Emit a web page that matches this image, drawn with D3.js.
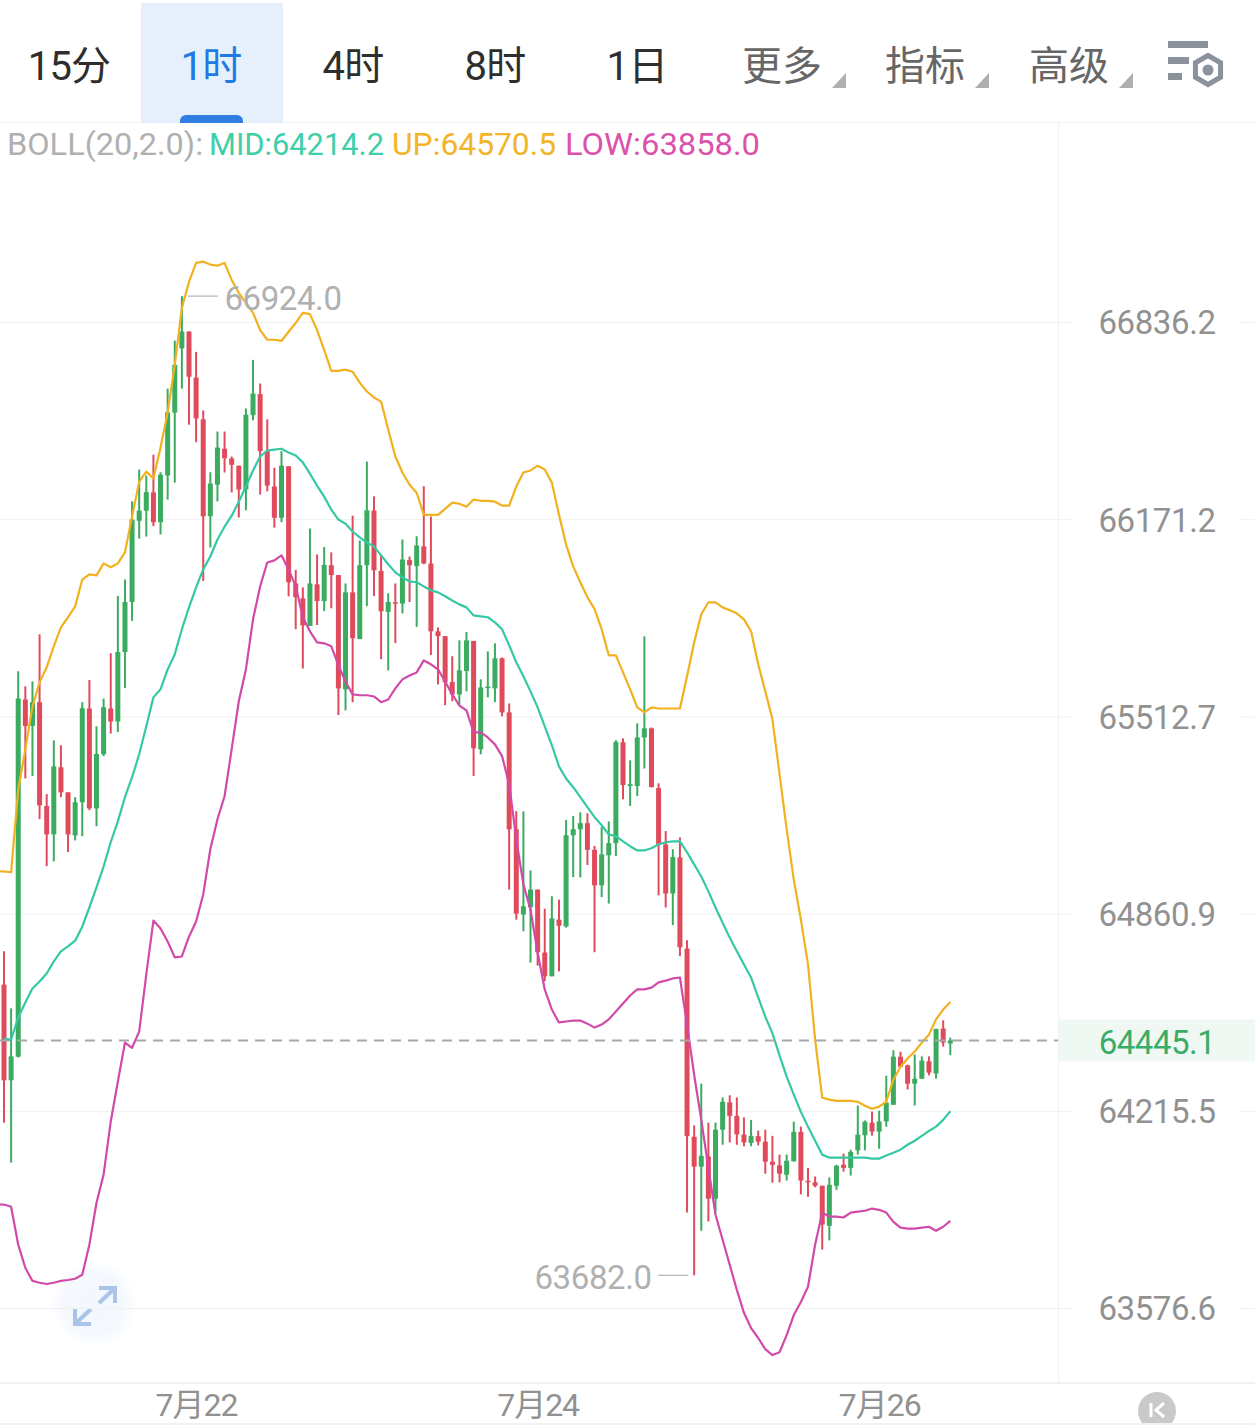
<!DOCTYPE html>
<html>
<head>
<meta charset="utf-8">
<title>BTC 1时 K线</title>
<script src="https://cdn.jsdelivr.net/npm/d3@7"></script>
<style>
html,body{margin:0;padding:0;background:#fff;}
svg{display:block;}
text{font-family:Roboto,"Noto Sans CJK SC",sans-serif;}
</style>
</head>
<body>
<svg id="chart" width="1255" height="1425"></svg>
<script>
// Hourly OHLC candles
const opens = [
64628,64315,64392,65569,65481,65560,65216,65122,65344,65261,
65119,65228,65539,65208,65387,65539,65496,65727,65894,66166,
66200,66261,66161,66318,66530,66747,66804,66648,66507,66181,
66287,66408,66375,66351,66271,66521,66592,66400,66281,66176,
66349,65956,65906,65814,65953,65897,66017,65984,65603,65926,
65770,66017,66200,65998,65861,65893,65889,66034,66014,66080,
66023,65796,65780,65627,65586,65664,65764,65404,65607,65606,
65706,65526,65139,64858,64882,64940,64733,64655,64841,64819,
65119,65139,65159,65071,64954,65053,65093,65427,65282,65282,
65443,65473,65275,65089,64927,65046,64746,64131,64034,64067,
63930,64154,64243,64199,64138,64111,64133,64115,64050,64038,
64008,64051,64147,63988,63983,63972,63842,63972,64040,64030,
64087,64136,64177,64148,64181,64235,64392,64364,64304,64320,
64377,64337,64484,64435];
const highs = [
64737,64550,65663,65613,65629,65786,65255,65433,65417,65261,
65245,65560,65634,65480,65572,65723,65914,65969,66231,66338,
66318,66388,66329,66611,66773,66924,66804,66735,66537,66329,
66466,66466,66382,66351,66544,66708,66628,66507,66344,66400,
66349,66001,65943,66140,66053,66078,66060,65984,65956,66183,
66100,66365,66248,66053,65923,65956,66103,66046,66114,66282,
66180,65809,65780,65713,65766,65794,65764,65636,65729,65756,
65709,65556,65199,65198,65003,64940,64877,64918,64907,65170,
65183,65195,65192,65084,65146,65165,65434,65440,65367,65490,
65779,65476,65291,65133,65073,65112,64773,64168,64304,64177,
64177,64259,64266,64259,64194,64186,64151,64154,64134,64073,
64073,64180,64164,64030,64002,63972,63999,64040,64076,64089,
64233,64184,64213,64216,64330,64413,64408,64366,64399,64393,
64393,64483,64511,64454];
const lows = [
64177,64047,64389,65307,65315,65172,65017,65033,65245,65064,
65102,65116,65202,65149,65381,65456,65461,65607,65831,66106,
66113,66148,66120,66237,66294,66611,66489,66430,65964,66076,
66231,66328,66261,66177,66201,66504,66254,66265,66143,66161,
65913,65803,65672,65814,65817,65864,65873,65517,65533,65560,
65770,65880,65914,65703,65666,65757,65856,65894,65811,66020,
65717,65619,65550,65563,65553,65596,65315,65387,65576,65560,
65513,64940,64841,64803,64700,64690,64639,64655,64671,64815,
64981,64980,65021,64734,64915,64894,65050,65238,65216,65249,
65340,65278,64921,64881,64823,64721,63885,63682,63826,63856,
63885,64105,64113,64105,64100,64100,64103,64011,63982,63983,
63989,64051,63944,63936,63967,63765,63795,63959,64018,64005,
64073,64087,64135,64092,64164,64235,64359,64285,64233,64320,
64331,64320,64425,64397];
const closes = [
64315,64393,65572,65481,65560,65218,65122,65347,65261,65122,
65228,65540,65208,65388,65543,65496,65727,65894,66170,66200,
66262,66161,66321,66531,66691,66804,66651,66510,66181,66291,
66412,66376,66354,66271,66523,66594,66400,66284,66176,66351,
65960,65910,65816,65956,65897,66018,65984,65606,65926,65773,
66017,66201,66000,65863,65894,65889,66036,66017,66083,66023,
65796,65780,65626,65586,65666,65766,65407,65609,65612,65706,
65526,65139,64861,64885,64940,64734,64655,64845,64821,65119,
65139,65159,65071,64954,65056,65093,65428,65285,65288,65443,
65473,65278,65089,64927,65047,64750,64133,64034,64069,63930,
64154,64245,64199,64139,64113,64134,64115,64050,64040,64011,
64053,64147,63989,63985,63972,63846,63975,64037,64030,64082,
64138,64180,64148,64181,64242,64392,64359,64304,64320,64379,
64340,64483,64438,64445.1];

// Bollinger bands (20, 2.0)
const bollUp = [
65000,64997,65271,65404,65546,65626,65676,65746,65809,65843,
65879,65969,65986,65983,66023,66010,66023,66060,66180,66297,
66331,66308,66412,66530,66691,66884,66972,67037,67041,67031,
67027,67037,66979,66935,66901,66867,66809,66776,66776,66772,
66803,66833,66867,66863,66809,66742,66671,66671,66675,66668,
66631,66601,66581,66567,66473,66382,66328,66287,66260,66186,
66186,66186,66206,66227,66223,66213,66237,66233,66233,66230,
66217,66217,66281,66328,66335,66351,66338,66294,66186,66086,
66013,65960,65910,65870,65803,65716,65716,65659,65603,65543,
65526,65543,65539,65539,65539,65539,65646,65759,65853,65893,
65893,65876,65866,65856,65836,65796,65686,65596,65503,65321,
65139,64973,64841,64694,64448,64258,64252,64248,64248,64248,
64245,64232,64222,64229,64245,64317,64359,64386,64409,64438,
64464,64514,64546,64570.5];
const bollMid = [
64451,64448,64520,64569,64615,64638,64664,64704,64737,64753,
64772,64818,64881,64947,65016,65096,65165,65245,65311,65387,
65480,65576,65603,65669,65719,65803,65876,65943,66003,66046,
66103,66146,66183,66230,66281,66335,66382,66402,66405,66408,
66395,66385,66362,66324,66284,66247,66203,66170,66156,66130,
66110,66093,66080,66050,66020,65993,65976,65963,65960,65946,
65933,65926,65913,65899,65886,65876,65849,65846,65843,65826,
65803,65749,65693,65646,65596,65543,65480,65417,65347,65307,
65278,65245,65212,65179,65152,65122,65116,65099,65083,65069,
65069,65076,65089,65096,65099,65099,65063,65023,64983,64934,
64881,64831,64782,64737,64694,64651,64586,64523,64468,64396,
64327,64268,64212,64164,64118,64073,64063,64063,64063,64063,
64063,64063,64060,64060,64070,64079,64089,64105,64118,64134,
64150,64164,64186,64214.2];
const bollLow = [
63911,63904,63781,63706,63664,63658,63654,63658,63664,63667,
63671,63684,63781,63917,64008,64180,64310,64438,64421,64474,
64661,64838,64812,64769,64717,64720,64785,64835,64924,65073,
65172,65248,65404,65563,65669,65836,65946,66026,66033,66050,
66003,65946,65843,65796,65759,65756,65746,65683,65629,65586,
65583,65583,65579,65560,65569,65606,65636,65649,65659,65699,
65686,65669,65629,65586,65549,65533,65460,65460,65443,65420,
65381,65288,65106,64957,64874,64733,64612,64546,64504,64507,
64510,64510,64500,64487,64497,64514,64540,64566,64592,64612,
64612,64618,64635,64641,64648,64651,64497,64333,64186,64030,
63878,63797,63716,63635,63561,63512,63480,63444,63425,63434,
63489,63554,63596,63645,63781,63885,63872,63872,63869,63885,
63888,63891,63898,63894,63885,63855,63836,63833,63833,63836,
63839,63826,63839,63858.0];

// Axis and toolbar content
const priceTicks = [66836.2, 66171.2, 65512.7, 64860.9, 64215.5, 63576.6];
const dateTickIndex = [27, 75, 123];
const dateTickLabels = ["7月22", "7月24", "7月26"];
const lastPrice = 64445.1;
const highMark = {index: 25, value: 66924.0};
const lowMark = {index: 97, value: 63682.0};
const periodTabs = ["15分", "1时", "4时", "8时", "1日"];
const activeTab = "1时";
const menuTabs = ["更多", "指标", "高级"];

const GREEN = "#3aab5f", RED = "#e04b5c";
const UPC = "#f2b11e", MIDC = "#35c8a4", LOWC = "#d24aa9";

const svg = d3.select("#chart");
const plot = {left: 0, right: 1058, top: 123, bottom: 1383};

const x = d3.scaleLinear().domain([0, opens.length - 1]).range([4, 950.3]);
// Price axis is logarithmic: tick values are evenly spaced by ratio
const y = d3.scaleLog().domain([63576.6, 66836.2]).range([1308, 322]);

const candles = opens.map((o, i) => ({i, o, h: highs[i], l: lows[i], c: closes[i]}));

// Background frame
const frame = svg.append("g").attr("stroke", "#f1f1f1").attr("stroke-width", 1);
frame.append("line").attr("x1", 0).attr("x2", 1255).attr("y1", 122.5).attr("y2", 122.5);
frame.append("line").attr("x1", plot.right + .5).attr("x2", plot.right + .5).attr("y1", plot.top).attr("y2", plot.bottom);
frame.append("line").attr("x1", 0).attr("x2", 1255).attr("y1", plot.bottom).attr("y2", plot.bottom).attr("stroke-width", 2);

// Fullscreen button sits underneath the chart marks
const defs = svg.append("defs");
const glow = defs.append("radialGradient").attr("id", "fsGlow");
glow.append("stop").attr("offset", "0%").attr("stop-color", "#f2f7fe");
glow.append("stop").attr("offset", "75%").attr("stop-color", "#f5f9fe");
glow.append("stop").attr("offset", "100%").attr("stop-color", "#fcfdff");
const fs = svg.append("g");
fs.append("circle").attr("cx", 94).attr("cy", 1304).attr("r", 41).attr("fill", "url(#fsGlow)");
fs.append("path").attr("d", "M99,1288H115V1303M115,1288L99,1303 M91,1324H75V1309M75,1324L91,1309")
  .attr("fill", "none").attr("stroke", "#a9c4e8").attr("stroke-width", 4);

// Price axis built by d3, then restyled as full-width grid rows
const axisY = svg.append("g").attr("class", "y-axis")
  .call(d3.axisRight(y).tickValues(priceTicks).tickFormat(d3.format(".1f")).tickSize(0).tickPadding(0));
axisY.select(".domain").remove();
axisY.selectAll(".tick").each(function () {
  const t = d3.select(this);
  t.insert("line", "text").attr("x1", 0).attr("x2", 1072).attr("stroke", "#f0f0f0");
  t.insert("line", "text").attr("x1", 1240).attr("x2", 1255).attr("stroke", "#f0f0f0");
  t.select("text").attr("x", 1157).attr("dy", "0.36em").attr("text-anchor", "middle")
    .attr("font-family", "Roboto").attr("font-weight", 400).attr("font-size", 33)
    .attr("letter-spacing", -0.4).attr("fill", "#919191");
});

// Candles
const gc = svg.append("g").attr("class", "candles");
const color = d => d.c >= d.o ? GREEN : RED;
gc.selectAll("line").data(candles).join("line")
  .attr("x1", d => x(d.i)).attr("x2", d => x(d.i))
  .attr("y1", d => y(d.h)).attr("y2", d => y(d.l))
  .attr("stroke", color).attr("stroke-width", 2);
gc.selectAll("rect").data(candles).join("rect")
  .attr("x", d => x(d.i) - 2.5).attr("width", 5)
  .attr("y", d => y(Math.max(d.o, d.c)))
  .attr("height", d => Math.max(1.5, Math.abs(y(d.o) - y(d.c))))
  .attr("fill", color);

// Bollinger lines
const lineGen = d3.line().x((d, i) => x(i)).y(d => y(d)).curve(d3.curveLinear);
[[bollLow, LOWC], [bollMid, MIDC], [bollUp, UPC]].forEach(([vals, c]) => {
  svg.append("path").datum(vals).attr("d", lineGen)
    .attr("fill", "none").attr("stroke", c).attr("stroke-width", 2.2).attr("stroke-linejoin", "round");
});
// Flat lead-in to the left of the first band point
svg.append("line").attr("x1", 0).attr("x2", x(0)).attr("y1", y(bollUp[0])).attr("y2", y(bollUp[0])).attr("stroke", UPC).attr("stroke-width", 2.2);
svg.append("line").attr("x1", 0).attr("x2", x(0)).attr("y1", y(bollLow[0])).attr("y2", y(bollLow[0])).attr("stroke", LOWC).attr("stroke-width", 2.2);

// Last-price marker
const ly = y(lastPrice);
svg.append("rect").attr("x", plot.right + 1).attr("y", ly - 21).attr("width", 1255 - plot.right - 1).attr("height", 42).attr("fill", "#eff8f2");
svg.append("line").attr("x1", 0).attr("x2", plot.right).attr("y1", ly).attr("y2", ly)
  .attr("stroke", "#a8a8a8").attr("stroke-width", 2).attr("stroke-dasharray", "10 7");
svg.append("text").attr("x", 1157).attr("y", ly + 1.5).attr("dy", "0.36em").attr("text-anchor", "middle")
  .attr("font-weight", 400).attr("font-size", 33).attr("letter-spacing", -0.5).attr("fill", "#39ad68")
  .text(d3.format(".1f")(lastPrice));

// High / low callouts
const callout = (m, side) => {
  const cx = x(m.index), cy = y(m.value);
  const g = svg.append("g").attr("fill", "#b0b0b0");
  const x1 = cx + side * 6, x2 = cx + side * 36;
  g.append("line").attr("x1", x1).attr("x2", x2).attr("y1", cy).attr("y2", cy).attr("stroke", "#b5b5b5").attr("stroke-width", 1.2);
  g.append("text").attr("x", x2 + side * 6.5).attr("y", cy + 2).attr("dy", "0.36em")
    .attr("text-anchor", side > 0 ? "start" : "end")
    .attr("font-weight", 400).attr("font-size", 33).attr("letter-spacing", -0.4)
    .text(d3.format(".1f")(m.value));
};
callout(highMark, 1);
callout(lowMark, -1);

// Date axis
const axisX = svg.append("g").attr("transform", "translate(0,1404)")
  .call(d3.axisBottom(x).tickValues(dateTickIndex).tickFormat((d, i) => dateTickLabels[i]).tickSize(0).tickPadding(0));
axisX.select(".domain").remove();
axisX.selectAll("text").attr("y", 0).attr("dy", "0.36em").attr("font-family", 'Roboto,"Noto Sans CJK SC"')
  .attr("font-weight", 400).attr("font-size", 32).attr("letter-spacing", -1).attr("fill", "#919191");

// BOLL legend row
const legend = [
  ["BOLL(20,2.0):", "#b0b0b0", 7, 196],
  ["MID:64214.2", "#3fcfa9", 209, 175],
  ["UP:64570.5", "#f4b428", 392, 164],
  ["LOW:63858.0", "#dc52ab", 565, 195]
];
svg.append("g").selectAll("text").data(legend).join("text")
  .attr("x", d => d[2]).attr("y", 155).attr("textLength", d => d[3]).attr("lengthAdjust", "spacingAndGlyphs")
  .attr("font-weight", 400).attr("font-size", 32).attr("fill", d => d[1]).text(d => d[0]);

// Period tab bar
const tabs = svg.append("g");
tabs.append("rect").attr("x", 141).attr("y", 3).attr("width", 142).attr("height", 120).attr("fill", "#e6f0fc");
tabs.append("path").attr("d", "M180,123v-2a6,6 0 0 1 6,-6h51a6,6 0 0 1 6,6v2z").attr("fill", "#2f7fe2");
const tabX = [69, 211, 353, 495, 637];
tabs.selectAll("text.period").data(periodTabs).join("text").attr("class", "period")
  .attr("x", (d, i) => tabX[i]).attr("y", 80).attr("text-anchor", "middle")
  .attr("font-family", 'Roboto,"Noto Sans CJK SC"').attr("font-weight", 400).attr("font-size", 40)
  .attr("letter-spacing", -0.8)
  .attr("fill", d => d === activeTab ? "#1f7be4" : "#2e2e2e").text(d => d);
const menuX = [782, 925, 1069];
tabs.selectAll("text.menu").data(menuTabs).join("text").attr("class", "menu")
  .attr("x", (d, i) => menuX[i]).attr("y", 80).attr("text-anchor", "middle")
  .attr("font-family", '"Noto Sans CJK SC"').attr("font-weight", 400).attr("font-size", 40)
  .attr("fill", "#666666").text(d => d);
menuX.forEach(mx => tabs.append("path")
  .attr("d", `M${mx + 64},73V88H${mx + 50}Z`)
  .attr("fill", "#b0b0b0"));

// Settings icon
const icon = svg.append("g").attr("fill", "#8b929c");
icon.append("rect").attr("x", 1168).attr("y", 41).attr("width", 40).attr("height", 7);
icon.append("rect").attr("x", 1168).attr("y", 57).attr("width", 21).attr("height", 7);
icon.append("rect").attr("x", 1168).attr("y", 73).attr("width", 14).attr("height", 7);
const hex = d3.range(6).map(k => {
  const a = Math.PI / 3 * k + Math.PI / 6;
  return [1208 + 14.5 * Math.cos(a), 70 + 14.5 * Math.sin(a)];
});
icon.append("path").attr("d", d3.line()(hex) + "Z").attr("fill", "none").attr("stroke", "#8b929c").attr("stroke-width", 5);
icon.append("circle").attr("cx", 1208).attr("cy", 70).attr("r", 5.5);

// Collapse button in the bottom-right corner
const kb = svg.append("g");
kb.append("circle").attr("cx", 1157).attr("cy", 1411).attr("r", 19).attr("fill", "#c9c9c9");
kb.append("path").attr("d", "M1151,1403V1417 M1164,1403L1156,1410L1164,1417").attr("fill", "none").attr("stroke", "#fff").attr("stroke-width", 3);
svg.append("rect").attr("x", 0).attr("y", 1423).attr("width", 1255).attr("height", 2).attr("fill", "#f1f1f1");
</script>
</body>
</html>
